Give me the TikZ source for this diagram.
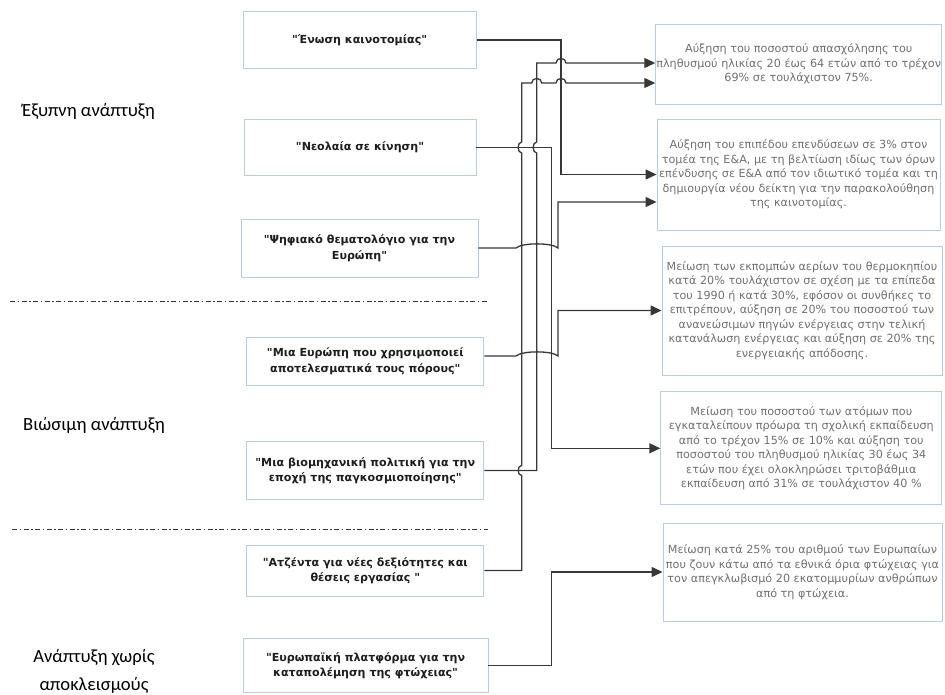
\documentclass[tikz,border=0pt]{standalone}
\usepackage{fontspec}
\setmainfont{DejaVu Sans}
\newfontfamily\boxfont{DejaVu Sans}
\newfontfamily\catfont{Carlito}
\usetikzlibrary{arrows.meta}
\definecolor{boxblue}{HTML}{B8CCE4}
\definecolor{textgray}{HTML}{707070}
\definecolor{textdark}{HTML}{1E1E1E}
\definecolor{linegray}{HTML}{383838}
\begin{document}
\begin{tikzpicture}[x=1pt,y=-1pt,
 lbox/.style={draw=boxblue, line width=0.9pt, fill=white, font=\boxfont\fontsize{11.1}{15.5}\selectfont\bfseries, text=textdark, align=center, inner sep=0pt},
 rbox/.style={draw=boxblue, line width=0.9pt, align=center, font=\boxfont\fontsize{11.2}{14.5}\selectfont, text=textgray, inner sep=0pt},
 conn/.style={draw=linegray, line width=1.3pt},
 arr/.style={conn, -{Triangle[length=11pt,width=10pt]}},
 sepline/.style={draw=linegray, line width=1.2pt, dash pattern=on 5pt off 2.5pt on 1.5pt off 2.5pt},
 cat/.style={font=\catfont\fontsize{18.6}{28}\selectfont, text=black, inner sep=0pt, align=center}]
\useasboundingbox (0,0) rectangle (945,695);

% category labels
\node[cat, anchor=west] (c1) at (22,111) {Έξυπνη ανάπτυξη};
\node[cat, anchor=west] (c2) at (23,425) {Βιώσιμη ανάπτυξη};
\node[cat] (c3) at (94,671) {Ανάπτυξη χωρίς\\αποκλεισμούς};

% separators
\draw[sepline] (10,301.7) -- (488,301.7);
\draw[sepline] (12,529.5) -- (488,529.5);

% left boxes
\node[lbox, minimum width=233pt, minimum height=57pt] (b1) at (359.7,40) {"Ένωση καινοτομίας"};
\node[lbox, minimum width=232pt, minimum height=56pt] (b2) at (360,147.5) {"Νεολαία σε κίνηση"};
\node[lbox, minimum width=237pt, minimum height=58pt] (b3) at (359.5,248) {"Ψηφιακό θεματολόγιο για την\\Ευρώπη"};
\node[lbox, minimum width=237pt, minimum height=48pt] (b4) at (365.3,361) {"Μια Ευρώπη που χρησιμοποιεί\\αποτελεσματικά τους πόρους"};
\node[lbox, minimum width=237pt, minimum height=57.5pt] (b5) at (365.3,470.5) {"Μια βιομηχανική πολιτική για την\\εποχή της παγκοσμιοποίησης"};
\node[lbox, minimum width=237pt, minimum height=51pt] (b6) at (365.3,570.5) {"Ατζέντα για νέες δεξιότητες και\\θέσεις εργασίας "};
\node[lbox, minimum width=244.7pt, minimum height=54.4pt] (b7) at (365.6,665.5) {"Ευρωπαϊκή πλατφόρμα για την\\καταπολέμηση της φτώχειας"};

% right boxes
\node[rbox, minimum width=286pt, minimum height=80pt] (r1) at (798.7,64) {Αύξηση του ποσοστού απασχόλησης του\\πληθυσμού ηλικίας 20 έως 64 ετών από το τρέχον\\69\% σε τουλάχιστον 75\%.};
\node[rbox, minimum width=283pt, minimum height=111pt] (r2) at (798.5,174.5) {Αύξηση του επιπέδου επενδύσεων σε 3\% στον\\τομέα της Ε\&Α, με τη βελτίωση ιδίως των όρων\\επένδυσης σε Ε\&Α από τον ιδιωτικό τομέα και τη\\δημιουργία νέου δείκτη για την παρακολούθηση\\της καινοτομίας.};
\node[rbox, minimum width=280pt, minimum height=129pt] (r3) at (802,310.5) {Μείωση των εκπομπών αερίων του θερμοκηπίου\\κατά 20\% τουλάχιστον σε σχέση με τα επίπεδα\\του 1990 ή κατά 30\%, εφόσον οι συνθήκες το\\επιτρέπουν, αύξηση σε 20\% του ποσοστού των\\ανανεώσιμων πηγών ενέργειας στην τελική\\κατανάλωση ενέργειας και αύξηση σε 20\% της\\ενεργειακής απόδοσης.};
\node[rbox, minimum width=281pt, minimum height=113pt] (r4) at (801.3,448.3) {Μείωση του ποσοστού των ατόμων που\\εγκαταλείπουν πρόωρα τη σχολική εκπαίδευση\\από το τρέχον 15\% σε 10\% και αύξηση του\\ποσοστού του πληθυσμού ηλικίας 30 έως 34\\ετών που έχει ολοκληρώσει τριτοβάθμια\\εκπαίδευση από 31\% σε τουλάχιστον 40 \%};
\node[rbox, minimum width=279pt, minimum height=98pt] (r5) at (802.5,572) {Μείωση κατά 25\% του αριθμού των Ευρωπαίων\\που ζουν κάτω από τα εθνικά όρια φτώχειας για\\τον απεγκλωβισμό 20 εκατομμυρίων ανθρώπων\\από τη φτώχεια.};

% helper heights
\coordinate (yA) at (0,63);
\coordinate (yB) at (0,83);
\coordinate (yC) at (0,202);

% connectors
\draw[arr] (b1.east) -- (561,40) -- (561,174.5) -- (r2.west);
\draw[arr] (b2.east) -- (551.7,147.5) -- (551.7,448.3) -- (r4.west);
\draw[arr] (b3.east) -- (516,248) .. controls (522,242.5) and (552,242.5) .. (558,248) -- (558,202) -- (r2.west |- yC);
\draw[arr] ([yshift=5pt]b4.east) -- (516,356) .. controls (522,350.5) and (552,350.5) .. (558,356) -- (558,310.5) -- (r3.west);
\draw[arr] (b5.east) -- (536.7,470.5) -- (536.7,153) .. controls (532,153) and (532,142) .. (536.7,142) -- (536.7,63) -- (556,63) .. controls (556,57) and (566,57) .. (566,63) -- (r1.west |- yA);
\draw[arr] (b6.east) -- (521.7,570.5) -- (521.7,475.5) .. controls (517,475.5) and (517,465.5) .. (521.7,465.5) -- (521.7,153) .. controls (517,153) and (517,142) .. (521.7,142) -- (521.7,83) -- (531.7,83) .. controls (531.7,77) and (541.7,77) .. (541.7,83) -- (556,83) .. controls (556,77) and (566,77) .. (566,83) -- (r1.west |- yB);
\draw[arr] (b7.east) -- (551.7,665.5) -- (551.7,572) -- (r5.west);
\end{tikzpicture}
\end{document}
